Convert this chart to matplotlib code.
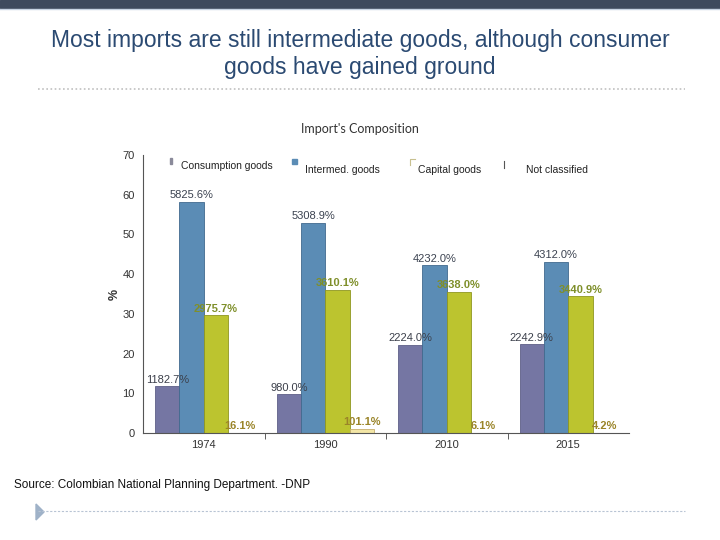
import matplotlib
matplotlib.use("Agg")
import matplotlib.pyplot as plt
from matplotlib.patches import Rectangle, Polygon
from matplotlib.lines import Line2D
import numpy as np

years = ["1974", "1990", "2010", "2015"]
series_names = ["Consumption goods", "Intermed. goods", "Capital goods", "Not classified"]
consumption = [11.8, 9.8, 22.2, 22.4]
intermediate = [58.2, 53.0, 42.3, 43.1]
capital = [29.7, 36.1, 35.6, 34.4]
not_classified = [0.1, 1.1, 0.1, 0.1]
label_consumption = ["1182.7%", "980.0%", "2224.0%", "2242.9%"]
label_intermediate = ["5825.6%", "5308.9%", "4232.0%", "4312.0%"]
label_capital = ["2975.7%", "3610.1%", "3638.0%", "3440.9%"]
label_not_classified = ["16.1%", "101.1%", "6.1%", "4.2%"]
y_ticks = [0, 10, 20, 30, 40, 50, 60, 70]

title = "Most imports are still intermediate goods, although consumer\ngoods have gained ground"
subtitle = "Import's Composition"
source = "Source: Colombian National Planning Department. -DNP"

colors = ["#7576a3", "#5b8cb5", "#bcc42f", "#f3e6a6"]
edges = ["#5f6088", "#41698e", "#8f9620", "#c8b070"]
label_colors = ["#3b3f4a", "#3b4250", "#7f8f2a", "#9a8428"]

plt.rcParams['font.family'] = ['Liberation Sans', 'DejaVu Sans']

fig = plt.figure(figsize=(7.2, 5.4), dpi=100)
W, H = 720, 540

def fx(px):
    return px / W

def fy(py):
    return 1 - py / H

# top dark band
fig.add_artist(Rectangle((0, fy(8)), 1, 8 / H, transform=fig.transFigure,
                         color="#3e4a5e", zorder=0))
fig.add_artist(Line2D([0, 1], [fy(9), fy(9)], transform=fig.transFigure,
                      color="#c8d4e4", lw=1))

fig.text(0.5, fy(54), title, ha="center", va="center", fontsize=16.5,
         color="#2b4a72", linespacing=1.22)
fig.add_artist(Line2D([fx(38), fx(685)], [fy(89), fy(89)], transform=fig.transFigure,
                      color="#c0c0c0", lw=1.2, linestyle=(0, (1, 1.5))))
fig.text(0.5, fy(129), subtitle, ha="center", va="center", fontsize=9, color="#333333",
         family=["Lato", "Liberation Sans"])

ax = fig.add_axes([fx(143), fy(433), fx(629) - fx(143), (433 - 155) / H])
x = np.arange(len(years))
w = 0.2
all_vals = [consumption, intermediate, capital, not_classified]
all_labels = [label_consumption, label_intermediate, label_capital, label_not_classified]
offsets = [-0.3, -0.1, 0.1, 0.3]
for i, (vals, labs) in enumerate(zip(all_vals, all_labels)):
    bars = ax.bar(x + offsets[i], vals, width=w, color=colors[i], edgecolor=edges[i],
                  linewidth=0.6, zorder=2)
    for b, v, lab in zip(bars, vals, labs):
        ax.annotate(lab, (b.get_x() + b.get_width() / 2, v), xytext=(0, 1),
                    textcoords="offset points", ha="center", va="bottom",
                    fontsize=8, color=label_colors[i],
                    fontweight="bold" if i >= 2 else "normal", zorder=3)

ax.set_xlim(-0.5, 3.5)
ax.set_ylim(0, 70)
ax.set_yticks(y_ticks)
ax.set_yticklabels([str(t) for t in y_ticks])
ax.set_xticks(x)
ax.set_xticklabels(years)
ax.set_xticks([0.5, 1.5, 2.5], minor=True)
ax.tick_params(axis="x", which="major", length=0, pad=5, labelsize=8, labelcolor="#333333")
ax.tick_params(axis="x", which="minor", length=4, direction="out", color="#444444")
ax.tick_params(axis="y", length=0, pad=6, labelsize=8, labelcolor="#333333")
for s in ["top", "right"]:
    ax.spines[s].set_visible(False)
ax.spines["left"].set_color("#555555")
ax.spines["bottom"].set_color("#555555")
ax.set_ylabel("%", fontsize=9, color="#333333", labelpad=1, fontweight="bold")

# legend (manual)
leg_text_x = [181, 305, 418, 526]
leg_text_y = [166, 170, 170, 170]
for i in range(4):
    if i == 0:
        fig.add_artist(Rectangle((fx(170), fy(164)), 2 / W, 6 / H, transform=fig.transFigure,
                                 color="#8a8a9a"))
    elif i == 1:
        fig.add_artist(Rectangle((fx(292), fy(164)), 5 / W, 5 / H, transform=fig.transFigure,
                                 color=colors[1]))
    elif i == 2:
        fig.add_artist(Line2D([fx(410), fx(410), fx(415)], [fy(165), fy(159), fy(159)],
                              transform=fig.transFigure, color="#c8c090", lw=0.8))
    else:
        fig.add_artist(Line2D([fx(504), fx(504)], [fy(161), fy(168)],
                              transform=fig.transFigure, color="#555555", lw=0.8))
    fig.text(fx(leg_text_x[i]), fy(leg_text_y[i]), series_names[i], ha="left", va="center",
             fontsize=7.5, color="#222222")

fig.text(fx(14), fy(485), source, ha="left", va="center", fontsize=8.5, color="#111111",
         family=["Liberation Sans Narrow", "Liberation Sans"])
fig.add_artist(Line2D([fx(38), fx(685)], [fy(511), fy(511)], transform=fig.transFigure,
                      color="#b8c4d4", lw=0.8, linestyle=(0, (2, 1.5))))
fig.add_artist(Polygon([[fx(36), fy(504)], [fx(36), fy(520)], [fx(44), fy(512)]],
                       closed=True, transform=fig.transFigure, color="#9fb2c8"))

fig.savefig("out.png", dpi=100)
